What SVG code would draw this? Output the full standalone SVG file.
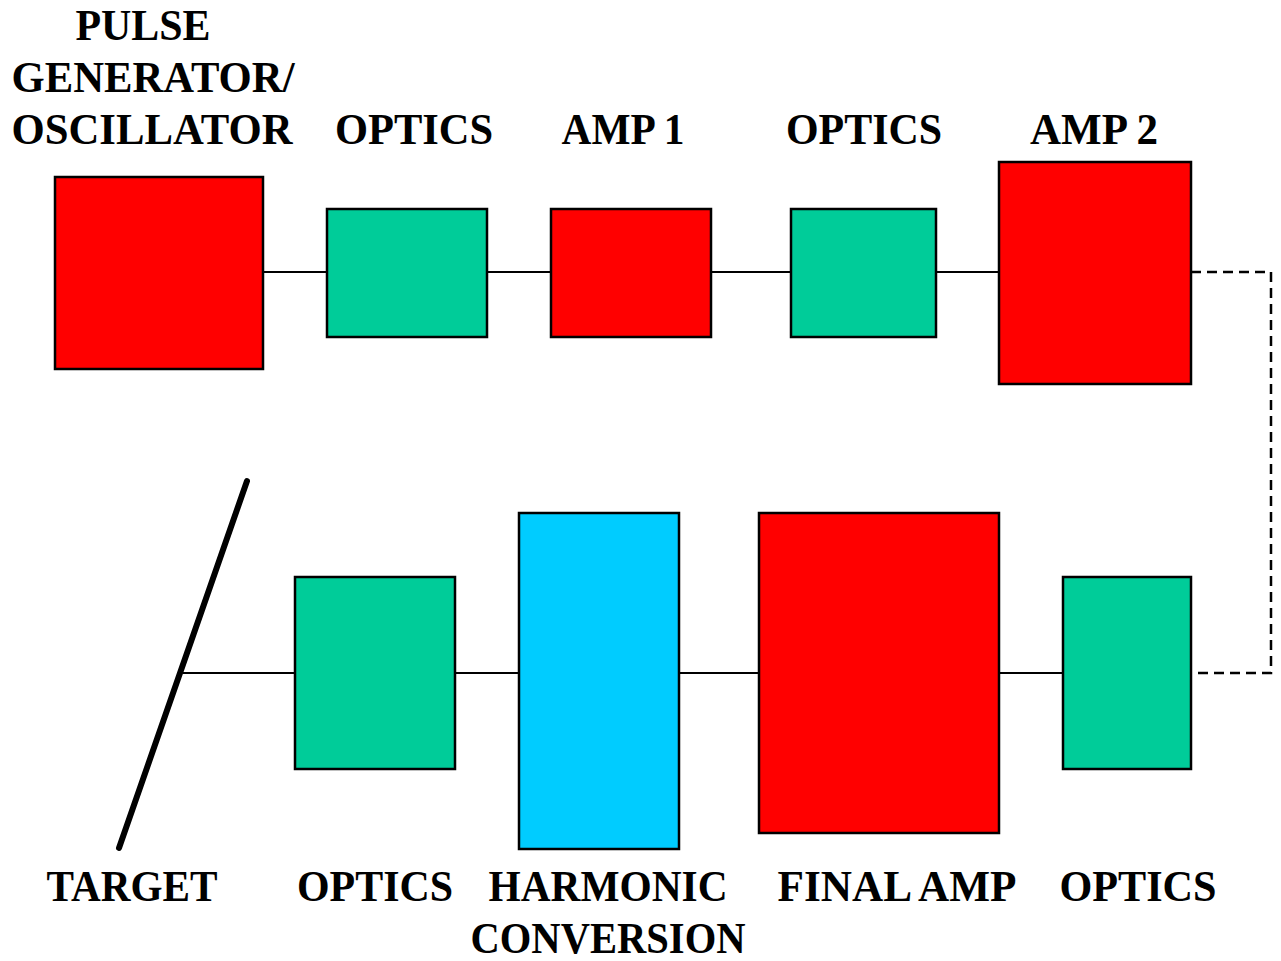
<svg xmlns="http://www.w3.org/2000/svg" width="1281" height="961" viewBox="0 0 1281 961">
<style>
.lbl{font-family:"Liberation Serif","Times New Roman",serif;font-weight:bold;font-size:44px;fill:#000;text-anchor:middle}
.box{stroke:#000;stroke-width:2.5}
.red{fill:#ff0000}
.grn{fill:#00cc99}
.cyn{fill:#00ccff}
.ln{stroke:#000;stroke-width:2;fill:none}
.dash{stroke:#000;stroke-width:2.5;fill:none;stroke-dasharray:10,6}
</style>
<rect width="1281" height="961" fill="#fff"/>
<g id="connectors">
<line class="ln" x1="263" y1="272" x2="327" y2="272"/>
<line class="ln" x1="487" y1="272" x2="551" y2="272"/>
<line class="ln" x1="711" y1="272" x2="791" y2="272"/>
<line class="ln" x1="936" y1="272" x2="999" y2="272"/>
<path class="dash" d="M1191,272 H1271 V673 H1191"/>
<line class="ln" x1="999" y1="673" x2="1063" y2="673"/>
<line class="ln" x1="679" y1="673" x2="759" y2="673"/>
<line class="ln" x1="455" y1="673" x2="519" y2="673"/>
<line class="ln" x1="183" y1="673" x2="295" y2="673"/>
</g>
<g id="pulse">
<rect class="box red" x="55" y="177" width="208" height="192"/>
<text class="lbl" x="143" y="40" textLength="135" lengthAdjust="spacingAndGlyphs">PULSE</text>
<text class="lbl" x="153" y="92" textLength="283" lengthAdjust="spacingAndGlyphs">GENERATOR/</text>
<text class="lbl" x="152" y="144" textLength="281" lengthAdjust="spacingAndGlyphs">OSCILLATOR</text>
</g>
<g id="optics1">
<rect class="box grn" x="327" y="209" width="160" height="128"/>
<text class="lbl" x="414" y="144" textLength="158" lengthAdjust="spacingAndGlyphs">OPTICS</text>
</g>
<g id="amp1">
<rect class="box red" x="551" y="209" width="160" height="128"/>
<text class="lbl" x="623" y="144" textLength="123" lengthAdjust="spacingAndGlyphs">AMP 1</text>
</g>
<g id="optics2">
<rect class="box grn" x="791" y="209" width="145" height="128"/>
<text class="lbl" x="864" y="144" textLength="156" lengthAdjust="spacingAndGlyphs">OPTICS</text>
</g>
<g id="amp2">
<rect class="box red" x="999" y="162" width="192" height="222"/>
<text class="lbl" x="1094" y="144" textLength="128" lengthAdjust="spacingAndGlyphs">AMP 2</text>
</g>
<g id="optics3">
<rect class="box grn" x="1063" y="577" width="128" height="192"/>
<text class="lbl" x="1138" y="901" textLength="157" lengthAdjust="spacingAndGlyphs">OPTICS</text>
</g>
<g id="finalamp">
<rect class="box red" x="759" y="513" width="240" height="320"/>
<text class="lbl" x="897" y="901" textLength="239" lengthAdjust="spacingAndGlyphs">FINAL AMP</text>
</g>
<g id="harmonic">
<rect class="box cyn" x="519" y="513" width="160" height="336"/>
<text class="lbl" x="608" y="901" textLength="239" lengthAdjust="spacingAndGlyphs">HARMONIC</text>
<text class="lbl" x="608" y="953" textLength="275" lengthAdjust="spacingAndGlyphs">CONVERSION</text>
</g>
<g id="optics4">
<rect class="box grn" x="295" y="577" width="160" height="192"/>
<text class="lbl" x="375" y="901" textLength="156" lengthAdjust="spacingAndGlyphs">OPTICS</text>
</g>
<g id="target">
<line x1="247" y1="481" x2="119" y2="848" stroke="#000" stroke-width="6" stroke-linecap="round"/>
<text class="lbl" x="132" y="901" textLength="171" lengthAdjust="spacingAndGlyphs">TARGET</text>
</g>
</svg>
